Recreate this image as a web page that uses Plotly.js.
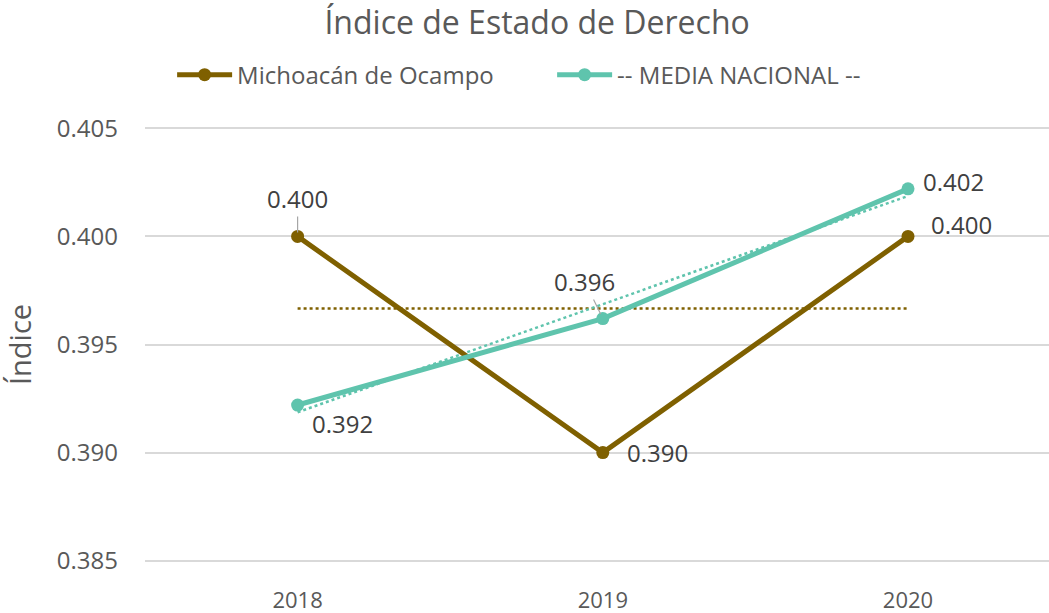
<!DOCTYPE html>
<html>
<head>
<meta charset="utf-8">
<script src="https://cdn.plot.ly/plotly-3.0.1.min.js"></script>
<style>html,body{margin:0;padding:0;background:#fff;}#chart{width:1049px;height:613px;}</style>
</head>
<body>
<div id="chart"></div>
<script>
var years = ['2018', '2019', '2020'];
var michoacan = [0.400, 0.390, 0.400];
var mediaNacional = [0.3922, 0.3962, 0.4022];
var michLabels = ['0.400', '0.390', '0.400'];
var mediaLabels = ['0.392', '0.396', '0.402'];
var yTicks = [0.385, 0.390, 0.395, 0.400, 0.405];

var BROWN = '#7f6000';
var TEAL = '#5fc4ad';
var FONT = 'Open Sans, Noto Sans, sans-serif';

function linFit(vals) {
  var n = vals.length, sx = 0, sy = 0, sxy = 0, sxx = 0;
  for (var i = 0; i < n; i++) { sx += i; sy += vals[i]; sxy += i * vals[i]; sxx += i * i; }
  var m = (n * sxy - sx * sy) / (n * sxx - sx * sx);
  var b = (sy - m * sx) / n;
  return vals.map(function (_, i) { return b + m * i; });
}
function meanLine(vals) {
  var s = 0; vals.forEach(function (v) { s += v; });
  var m = s / vals.length;
  return vals.map(function () { return m; });
}

var traces = [
  { x: years, y: meanLine(michoacan), type: 'scatter', mode: 'lines', showlegend: false, hoverinfo: 'skip',
    line: { color: BROWN, width: 2.5, dash: 'dot' } },
  { x: years, y: linFit(mediaNacional), type: 'scatter', mode: 'lines', showlegend: false, hoverinfo: 'skip',
    line: { color: TEAL, width: 2.5, dash: 'dot' } },
  { x: years, y: michoacan, type: 'scatter', mode: 'lines+markers', name: 'Michoacán de Ocampo',
    line: { color: BROWN, width: 5 }, marker: { color: BROWN, size: 13 } },
  { x: years, y: mediaNacional, type: 'scatter', mode: 'lines+markers', name: '-- MEDIA NACIONAL --',
    line: { color: TEAL, width: 5 }, marker: { color: TEAL, size: 13 } }
];

var labelFont = { family: FONT, size: 24, color: '#404040' };
// category axis: annotations use category index
var annotations = [
  { x: 0, y: michoacan[0], text: michLabels[0], showarrow: true, arrowhead: 0, arrowwidth: 1.2,
    arrowcolor: '#a6a6a6', ax: 0, ay: -38, standoff: 4, font: labelFont },
  { x: 1, y: michoacan[1], text: michLabels[1], showarrow: false, xshift: 55, yshift: 0, font: labelFont },
  { x: 2, y: michoacan[2], text: michLabels[2], showarrow: false, xshift: 53, yshift: 12, font: labelFont },
  { x: 0, y: mediaNacional[0], text: mediaLabels[0], showarrow: false, xshift: 45, yshift: -18, font: labelFont },
  { x: 1, y: mediaNacional[1], text: mediaLabels[1], showarrow: true, arrowhead: 0, arrowwidth: 1.2,
    arrowcolor: '#a6a6a6', ax: -18, ay: -37, standoff: 5, font: labelFont },
  { x: 2, y: mediaNacional[2], text: mediaLabels[2], showarrow: false, xshift: 45, yshift: 7, font: labelFont }
];

var layout = {
  width: 1049, height: 613,
  margin: { l: 145, r: 0, t: 124, b: 48 },
  paper_bgcolor: '#ffffff', plot_bgcolor: '#ffffff',
  font: { family: FONT, color: '#595959' },
  title: { text: 'Índice de Estado de Derecho', xref: 'container', yref: 'container', x: 0.512, y: 0.962,
    xanchor: 'center', yanchor: 'middle', font: { family: FONT, size: 32, color: '#595959' } },
  showlegend: true,
  legend: { orientation: 'h', x: 0.03, xanchor: 'left', y: 1.111, yanchor: 'middle',
    font: { family: FONT, size: 24, color: '#595959' }, itemwidth: 55, entrywidth: 310, entrywidthmode: 'pixels' },
  xaxis: { type: 'category', range: [-0.5, 2.462], showgrid: false, zeroline: false, showline: false,
    ticks: '', ticklabelstandoff: 20, tickfont: { family: FONT, size: 22, color: '#595959' }, fixedrange: true },
  yaxis: { range: [0.3848, 0.4052], tickvals: yTicks, tickformat: '.3f', showgrid: true, gridcolor: '#d9d9d9',
    gridwidth: 2, zeroline: false, showline: false, ticks: '', ticklabelstandoff: 26,
    tickfont: { family: FONT, size: 24, color: '#595959' },
    title: { text: 'Índice', standoff: 18, font: { family: FONT, size: 29, color: '#595959' } }, fixedrange: true },
  annotations: annotations
};

Plotly.newPlot('chart', traces, layout, { displayModeBar: false, staticPlot: true });
</script>
</body>
</html>
